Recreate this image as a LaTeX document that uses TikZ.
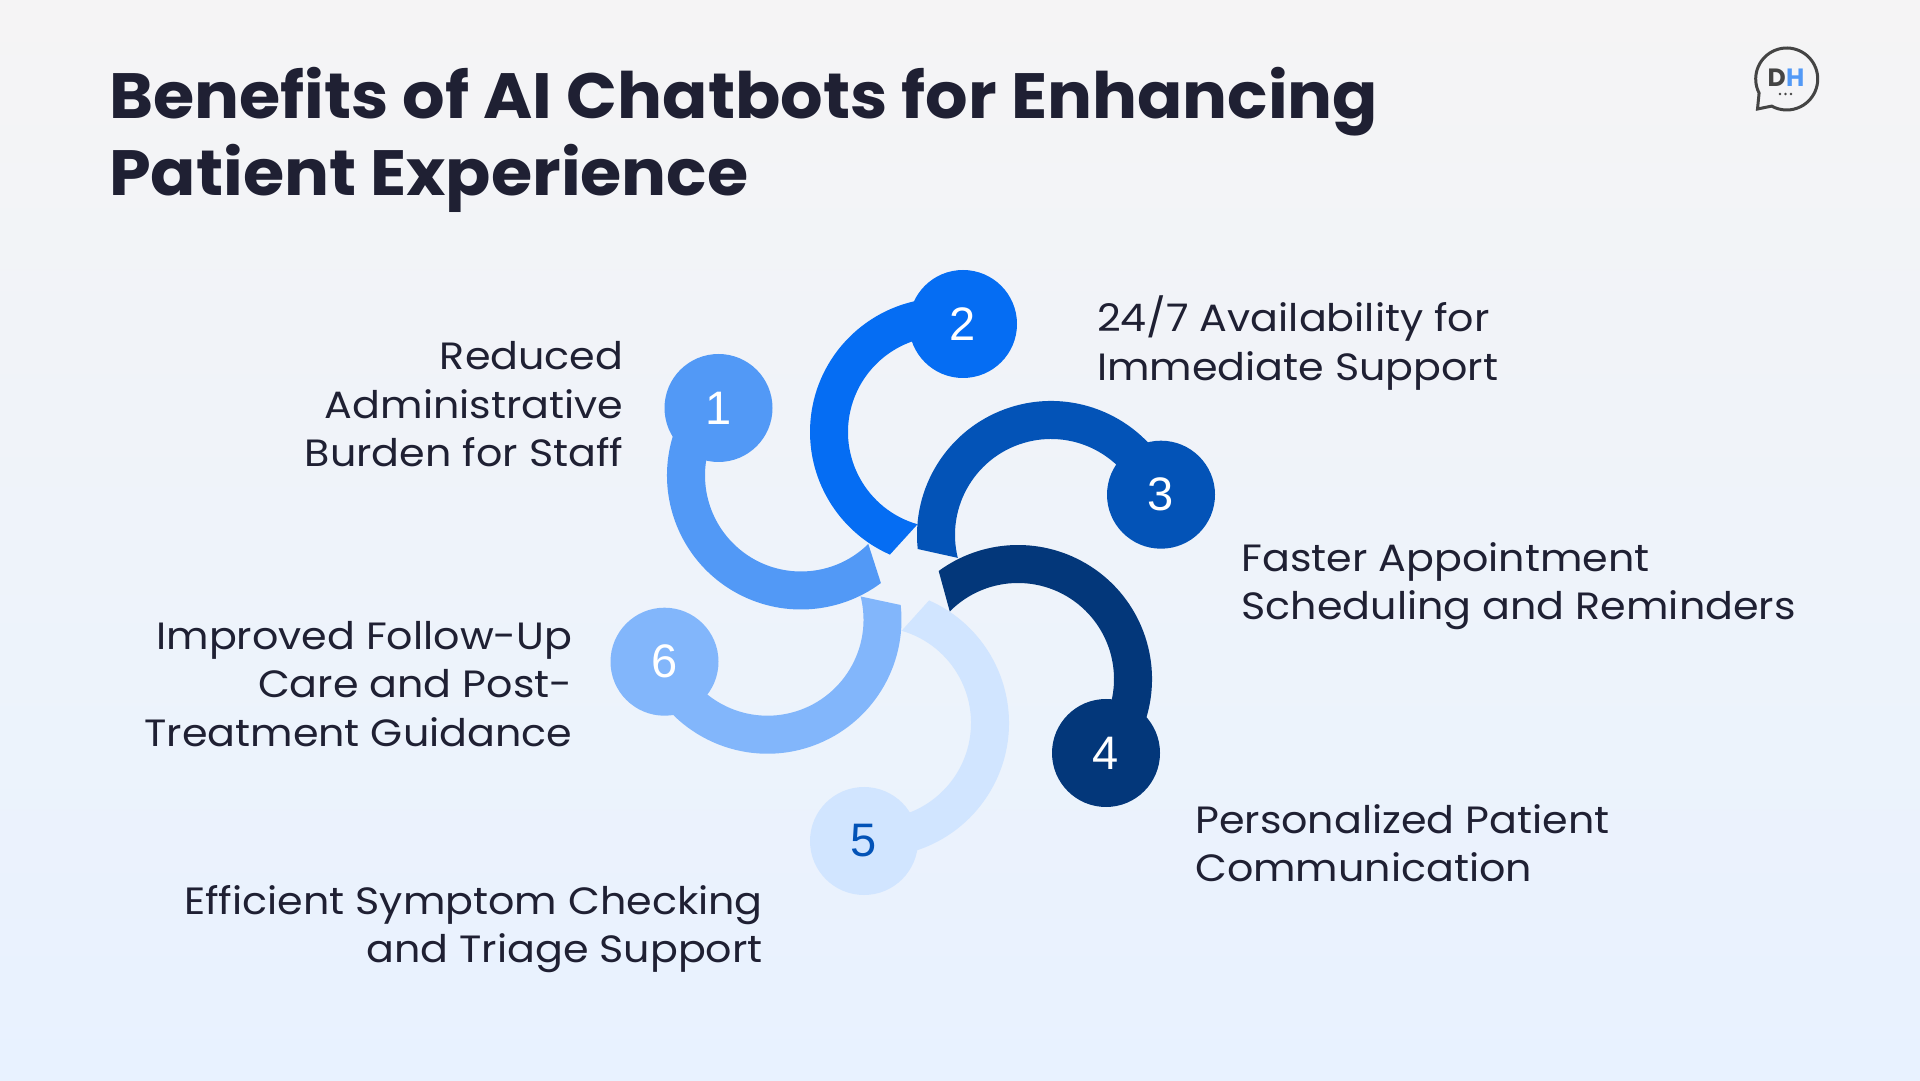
\documentclass[tikz,border=0pt]{standalone}
\usepackage{fontspec}
\setmainfont{Poppins}
\newfontfamily\titlef[FakeStretch=1.044]{Poppins}
\newfontfamily\logof{Poppins}
\newfontfamily\bodyf[FakeStretch=1.085]{Poppins}
\newfontfamily\numf{Liberation Sans}
\definecolor{bgtop}{HTML}{F5F4F5}
\definecolor{bgbot}{HTML}{E8F2FF}
\definecolor{ink}{HTML}{1F2033}
\definecolor{cone}{HTML}{5299F6}
\definecolor{ctwo}{HTML}{056DF3}
\definecolor{cthree}{HTML}{0353B7}
\definecolor{cfour}{HTML}{03377A}
\definecolor{cfive}{HTML}{D1E5FF}
\definecolor{csix}{HTML}{82B6FB}
\definecolor{logog}{HTML}{444444}
% #1 colour, #2 cx, #3 cy (y from top), #4 outer start, #5 outer end, #6 inner end, #7 inner start
\newcommand{\ringseg}[7]{%
  \fill[#1] ($(#2,1080-#3)+(#4:134)$) arc[start angle=#4,end angle=#5,radius=134]
    -- ($(#2,1080-#3)+(#6:96)$) arc[start angle=#6,end angle=#7,radius=96] -- cycle;}
\usetikzlibrary{calc}
\tikzset{
  numdot/.style={circle,minimum size=108pt,inner sep=0pt,text=white,font=\numf\fontsize{47}{47}\selectfont},
  lab/.style={text=ink,inner sep=0pt,font=\bodyf\fontsize{38}{48.6}\selectfont},
  labl/.style={lab,align=left,anchor=west},
  labr/.style={lab,align=right,anchor=east},
  titletext/.style={anchor=base west,inner sep=0pt,text=ink,font=\titlef\bfseries\fontsize{64}{77}\selectfont},
  logotext/.style={inner sep=0pt,font=\logof\bfseries\fontsize{25}{25}\selectfont},
}
\begin{document}
\begin{tikzpicture}[x=1pt,y=1pt]
\useasboundingbox (0,0) rectangle (1920,1080);
\shade[top color=bgtop,bottom color=bgbot] (0,0) rectangle (1920,1080);
\node[titletext] (title) at (109,961) {Benefits of AI Chatbots for Enhancing};
\node[titletext] (title2) at (109,884) {Patient Experience};
% arcs
\ringseg{cfive}{875}{723}{-85}{66.2}{73.9}{-85}
\ringseg{csix}{767.5}{619.7}{200}{366.3}{374}{200}
\ringseg{cone}{801}{475.5}{150}{306.6}{314.5}{150}
\ringseg{ctwo}{944}{432}{85}{246.2}{254}{85}
\ringseg{cthree}{1051}{535}{20}{186}{193.8}{20}
\ringseg{cfour}{1018}{679}{-30}{126.3}{135.3}{-30}
% number discs
\node[numdot,fill=cone] (n1) at (718.5,672) {1};
\node[numdot,fill=ctwo] (n2) at (963,756) {2};
\node[numdot,fill=cthree] (n3) at (1161,585.3) {3};
\node[numdot,fill=cfour] (n4) at (1106,327) {4};
\node[numdot,fill=cfive,text=cthree] (n5) at (864,239) {5};
\node[numdot,fill=csix] (n6) at (664.5,418.3) {6};
% labels
\node[labr] (l1) at (623.5,675.5) {Reduced\\Administrative\\Burden for Staff};
\node[labl] (l2) at (1097,737) {24/7 Availability for\\Immediate Support};
\node[labl] (l3) at (1241.5,494) {Faster Appointment\\Scheduling and Reminders};
\node[labl] (l4) at (1195,236.8) {Personalized Patient\\Communication};
\node[labr] (l5) at (763,151) {Efficient Symptom Checking\\and Triage Support};
\node[labr] (l6) at (572.5,396) {Improved Follow-Up\\Care and Post-\\Treatment Guidance};
% logo
\draw[logog,line width=3pt,miter limit=10] (1786.7+31*cos 207,1001+31*sin 207)
  arc[start angle=207,end angle=-119,radius=31] -- (1757.5,971) -- cycle;
\node[logotext,anchor=base east,text=logog] (logod) at (1786,993) {D};
\node[logotext,anchor=base west,text=cone] (logoh) at (1786,993) {H};
\fill[logog] (1780,986) circle (1.3) (1785.5,986) circle (1.3) (1791,986) circle (1.3);
\end{tikzpicture}
\end{document}
